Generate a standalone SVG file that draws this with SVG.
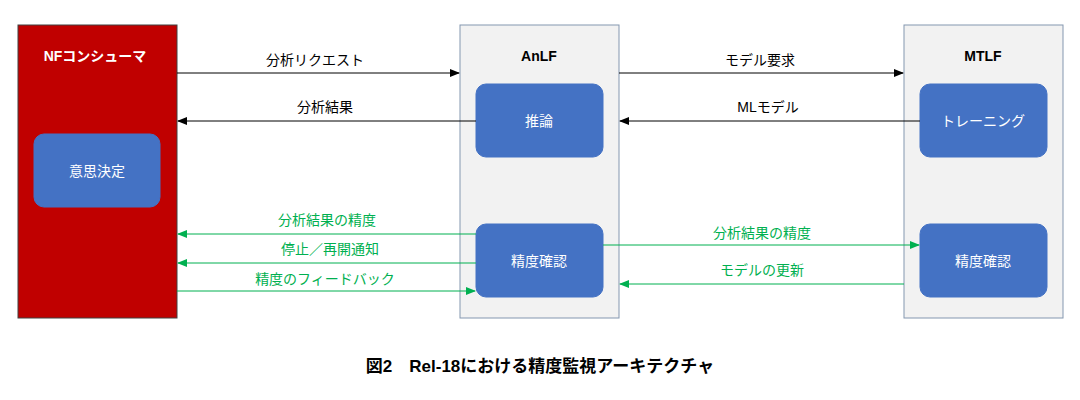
<svg xmlns="http://www.w3.org/2000/svg" width="1080" height="400" viewBox="0 0 1080 400">
<defs>
<marker id="ab" markerWidth="10" markerHeight="8" refX="9" refY="4" orient="auto" markerUnits="userSpaceOnUse"><path d="M0,0 L10,4 L0,8 z" fill="#000"/></marker>
<marker id="ag" markerWidth="10" markerHeight="8" refX="9" refY="4" orient="auto" markerUnits="userSpaceOnUse"><path d="M0,0 L10,4 L0,8 z" fill="#00b050"/></marker>
<style>
text{font-family:"Liberation Sans","Noto Sans CJK JP",sans-serif;font-size:14px;text-anchor:middle}
.big{fill:#f2f2f2;stroke:#8497b0;stroke-width:1}
.nf{fill:#c00000;stroke:#404040;stroke-width:1}
.box{fill:#4472c4;stroke:#4472c4}
.bt{fill:#fff}
.title{font-weight:bold}
.k{stroke:#000;stroke-width:1;fill:none;marker-end:url(#ab)}
.g{stroke:#00b050;stroke-width:1;fill:none;marker-end:url(#ag)}
.gt{fill:#00b050}
</style>
</defs>
<rect width="1080" height="400" fill="#fff"/>
<g id="nf"><rect class="nf" x="18" y="25" width="159" height="293"/><text x="95" y="61" class="title" fill="#fff">NFコンシューマ</text></g>
<g id="ishi"><rect class="box" x="34" y="134" width="126" height="73" rx="10"/><text class="bt" x="97" y="176">意思決定</text></g>
<g id="anlf"><rect class="big" x="460" y="25" width="159" height="293"/><text x="539" y="61" class="title">AnLF</text></g>
<g id="suiron"><rect class="box" x="476" y="84" width="127" height="73" rx="10"/><text class="bt" x="539" y="126">推論</text></g>
<g id="kakunin1"><rect class="box" x="476" y="224" width="127" height="73" rx="10"/><text class="bt" x="539" y="266">精度確認</text></g>
<g id="mtlf"><rect class="big" x="904" y="25" width="159" height="293"/><text x="983" y="61" class="title">MTLF</text></g>
<g id="training"><rect class="box" x="920" y="84" width="127" height="73" rx="10"/><text class="bt" x="983" y="126">トレーニング</text></g>
<g id="kakunin2"><rect class="box" x="920" y="224" width="127" height="73" rx="10"/><text class="bt" x="983" y="266">精度確認</text></g>
<g id="connectors">
<line class="k" x1="177" y1="73" x2="459" y2="73"/><text x="315" y="65">分析リクエスト</text>
<line class="k" x1="476" y1="121" x2="178" y2="121"/><text x="325" y="112">分析結果</text>
<line class="k" x1="619" y1="73" x2="903" y2="73"/><text x="760" y="65">モデル要求</text>
<line class="k" x1="920" y1="121" x2="620" y2="121"/><text x="768" y="112">MLモデル</text>
<line class="g" x1="476" y1="234" x2="178" y2="234"/><text class="gt" x="327" y="225">分析結果の精度</text>
<line class="g" x1="476" y1="263" x2="178" y2="263"/><text class="gt" x="330" y="254">停止／再開通知</text>
<line class="g" x1="177" y1="291" x2="475" y2="291"/><text class="gt" x="325" y="284">精度のフィードバック</text>
<line class="g" x1="603" y1="245" x2="919" y2="245"/><text class="gt" x="762" y="238">分析結果の精度</text>
<line class="g" x1="904" y1="284" x2="620" y2="284"/><text class="gt" x="762" y="275">モデルの更新</text>
</g>
<text x="540" y="372" class="title" style="font-size:17px">図2　Rel-18における精度監視アーキテクチャ</text>
</svg>
